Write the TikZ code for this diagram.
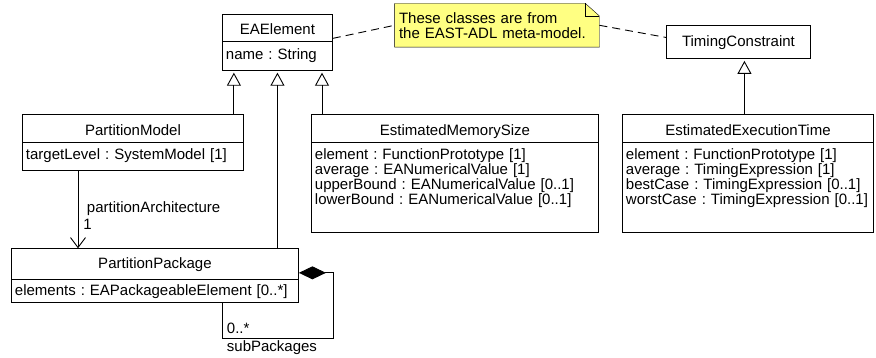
\documentclass[tikz,border=0pt]{standalone}
\usepackage{fontspec}
\setmainfont{Liberation Sans}
\usetikzlibrary{shapes,arrows,positioning,calc,arrows.meta,backgrounds}
\definecolor{noteyellow}{RGB}{255,255,130}
\newcommand{\headgap}{\rule[-6.5pt]{0pt}{26.5pt}}
\newcommand{\topgap}{\rule{0pt}{17pt}}
\newcommand{\botgap}[1]{\rule[-#1]{0pt}{0pt}}
\frenchspacing
\lineskiplimit=-10pt

\begin{document}
\begin{tikzpicture}[x=1pt, y=1pt, line width=0.9pt,
    font=\fontsize{15}{13}\selectfont,
    umlclass/.style={draw, rectangle split, rectangle split parts=2, inner xsep=3.5pt, inner ysep=0pt, align=left, anchor=north west},
    umlbox/.style={draw, rectangle, inner xsep=3.5pt, inner ysep=0pt, align=center, anchor=north west},
    notebox/.style={inner xsep=4pt, inner ysep=0pt, minimum width=204pt, minimum height=42.7pt, text width=196pt, align=left, font=\fontsize{15}{15}\selectfont},
    lbl/.style={inner sep=0pt, anchor=base west},
    inherit/.style={-{Triangle[open, length=13pt, width=14pt]}, shorten >=2pt},
    assoc/.style={-{Straight Barb[length=10pt, width=15pt]}},
    compose/.style={{Diamond[length=27pt, width=13pt]}-},
    notelink/.style={dash pattern=on 8pt off 5pt}]
    \useasboundingbox (0,0) rectangle (876,-358);

    % EAST-ADL classes
    \node[umlclass, text width=103pt] (ea) at (222,-14) {\hfill EAElement\headgap\hfill\null\nodepart{two}\topgap name : String\botgap{10.5pt}};
    \node[umlbox, text width=137pt] (tc) at (666,-25) {TimingConstraint\rule[-12.3pt]{0pt}{33pt}};

    % Note
    \node[notebox] (note) at (497,-25.3) {These classes are from\\the EAST-ADL meta-model.};
    \begin{scope}[on background layer]
        \draw[fill=noteyellow] (note.north west) -- ([xshift=-14pt]note.north east) -- ([yshift=-12.5pt]note.north east) -- (note.south east) -- (note.south west) -- cycle;
        \draw ([xshift=-14pt]note.north east) |- ([yshift=-12.5pt]note.north east);
    \end{scope}

    % Partition classes
    \node[umlclass, text width=214pt] (pm) at (22,-114.3) {\hfill PartitionModel\headgap\hfill\null\nodepart{two}\topgap targetLevel : SystemModel [1]\botgap{10.5pt}};
    \node[umlclass, text width=280pt] (pp) at (11,-248.3) {\hfill PartitionPackage\rule[-10.6pt]{0pt}{30pt}\hfill\null\nodepart{two}\rule{0pt}{15pt}elements : EAPackageableElement [0..*]\botgap{7.4pt}};
    \node[umlclass, text width=280pt] (ems) at (311,-114.3) {\hfill EstimatedMemorySize\headgap\hfill\null\nodepart{two}\topgap element : FunctionPrototype [1]\\
        average : EANumericalValue [1]\\
        upperBound : EANumericalValue [0..1]\\
        lowerBound : EANumericalValue [0..1]\botgap{27.2pt}};
    \node[umlclass, text width=244pt] (eet) at (622,-114.3) {\hfill EstimatedExecutionTime\headgap\hfill\null\nodepart{two}\topgap element : FunctionPrototype [1]\\
        average : TimingExpression [1]\\
        bestCase : TimingExpression [0..1]\\
        worstCase : TimingExpression [0..1]\botgap{27.2pt}};

    % Generalizations
    \draw[inherit] ([xshift=-10pt]pm.north east) -- ([xshift=-10pt]pm.north east |- ea.south);
    \draw[inherit] (pp.north -| ea.south) -- (ea.south);
    \draw[inherit] ([xshift=11pt]ems.north west) -- ([xshift=11pt]ems.north west |- ea.south);
    \draw[inherit] ([xshift=-3.5pt]eet.north) -- ([xshift=-3.5pt]eet.north |- tc.south);

    % Associations
    \draw[assoc] ([xshift=56pt]pm.south west) -- ([xshift=56pt]pm.south west |- pp.north);
    \node[lbl] (arch) at (86.5,-212.3) {partitionArchitecture};
    \node[lbl] (archmult) at (83,-230) {1};

    \draw[compose] ([yshift=3pt]pp.east) -- ++(35,0) |- ([xshift=-76pt,yshift=-35.3pt]pp.south east) -- ([xshift=-76pt]pp.south east);
    \node[lbl] (submult) at (226.5,-333) {0..*};
    \node[lbl] (subname) at (226.5,-351.7) {subPackages};

    % Note links
    \draw[notelink] ([yshift=4pt]ea.east) -- (note.west);
    \draw[notelink] (note.east) -- ([yshift=4.5pt]tc.west);

\end{tikzpicture}
\end{document}
